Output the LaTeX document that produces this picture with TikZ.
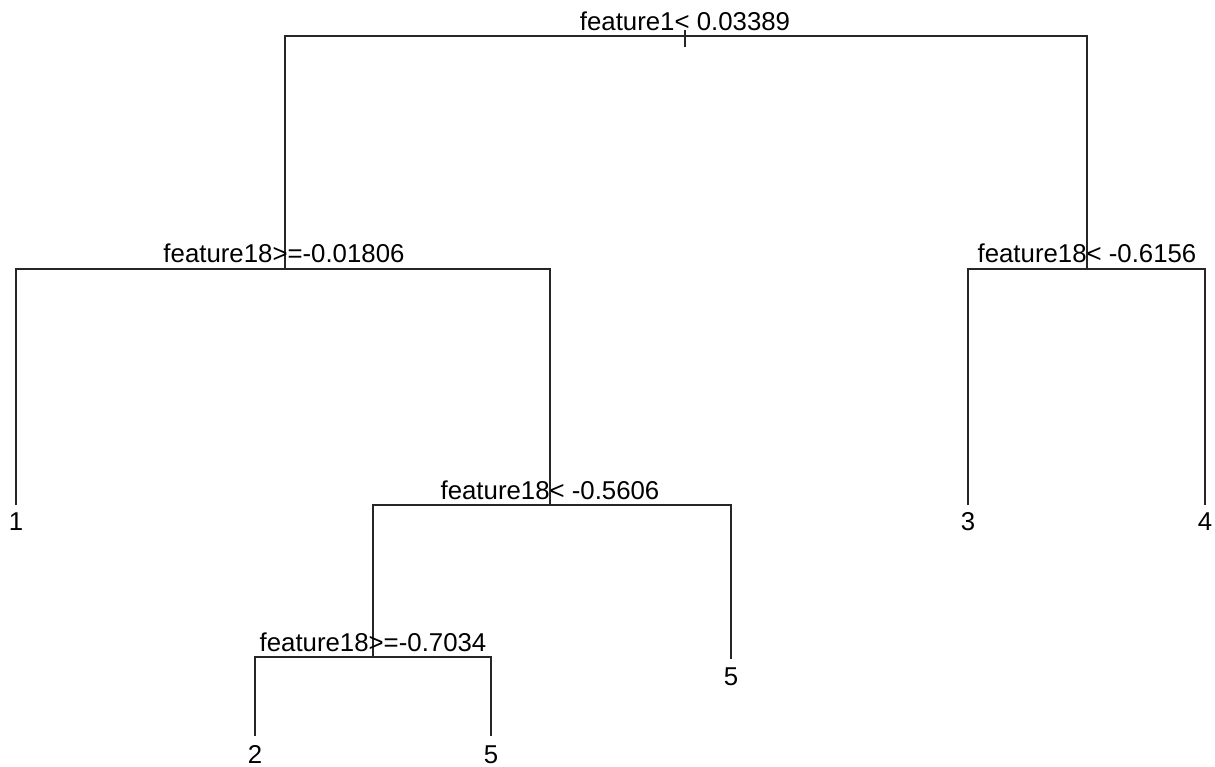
\documentclass[tikz,border=0pt]{standalone}
\usepackage{fontspec}
\setmainfont{Liberation Sans}
\begin{document}
\begin{tikzpicture}[x=1pt,y=-1pt,
  lbl/.style={anchor=base,inner sep=0pt,font=\fontsize{25.8}{30}\selectfont},
  edge/.style={line width=1.2pt,black!85}]
\useasboundingbox[fill=white] (0,0) rectangle (1215,767);
% split and leaf positions
\coordinate (r) at (685,36);
\coordinate (a) at (285,269);
\coordinate (b) at (1087,269);
\coordinate (c) at (550,505);
\coordinate (d) at (373,657);
\coordinate (l1) at (16,505);
\coordinate (l3) at (968,505);
\coordinate (l4) at (1205,505);
\coordinate (l5a) at (731,659);
\coordinate (l2) at (255,736);
\coordinate (l5b) at (491,736);
% connectors
\draw[edge] (a) |- (r) -| (b);
\coordinate (rt0) at (685,30);
\coordinate (rt) at (685,47);
\draw[edge] (rt0) -- (rt);
\draw[edge] (l1) |- (a) -| (c);
\draw[edge] (l3) |- (b) -| (l4);
\draw[edge] (d) |- (c) -| (l5a);
\draw[edge] (l2) |- (d) -| (l5b);
% split labels
\node[lbl] (tr) at (685,30.5) {feature1< 0.03389};
\node[lbl] (ta) at (284,263) {feature18>=-0.01806};
\node[lbl] (tb) at (1087,263) {feature18< -0.6156};
\node[lbl] (tc) at (550,499) {feature18< -0.5606};
\node[lbl] (td) at (373,651) {feature18>=-0.7034};
% leaf labels
\node[lbl] (t1) at (16,530) {1};
\node[lbl] (t3) at (968,530) {3};
\node[lbl] (t4) at (1205,530) {4};
\node[lbl] (t5a) at (731,685) {5};
\node[lbl] (t2) at (255,763) {2};
\node[lbl] (t5b) at (491,763) {5};
\end{tikzpicture}
\end{document}
